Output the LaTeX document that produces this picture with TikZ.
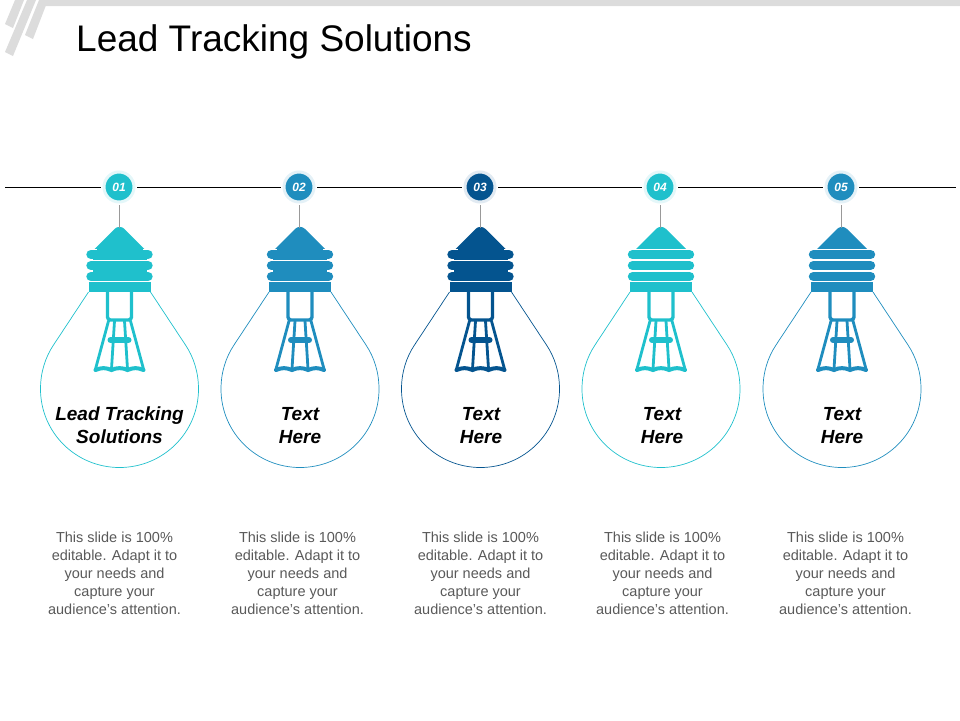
\documentclass[tikz,border=0pt]{standalone}
\usepackage{fontspec}
\setmainfont{Liberation Sans}
\usetikzlibrary{positioning,calc}

\definecolor{tealc}{HTML}{1FC0CC}
\definecolor{bluec}{HTML}{1F8DBE}
\definecolor{navyc}{HTML}{04548F}
\definecolor{stripec}{HTML}{DCDCDC}
\definecolor{bodyc}{HTML}{595959}

% cap with three ridges, merged = 1 keeps the ridges joined
\newcommand{\bulbcap}[2]{%
  \fill[#1,rounded corners=7] (0,224) -- (32,256) -- (-32,256) -- cycle;
  \fill[white] (-35,249) rectangle (35,258);
  \fill[#1] (-31,282) rectangle (31,292);
  \foreach \ry in {254.5,265.5,276.5} {\draw[#1,line width=9.4,line cap=round] (-28.5,\ry) -- (28.5,\ry);}
  \ifnum#2=1
    \fill[#1] (-23,248) rectangle (23,252);
    \fill[#1] (-27,250) rectangle (27,282);
    \draw[white,line width=0.9] (-35,260) -- (35,260);
    \draw[white,line width=0.9] (-35,281.5) -- (35,281.5);
  \fi
}

% filament inside the glass
\newcommand{\bulbwire}[1]{%
  \draw[#1,line width=3.4,rounded corners=3] (-12,292) -- (-12,320) -- (12,320) -- (12,292);
  \draw[#1,line width=2.8,line cap=round] (-11,321) -- (-24,369);
  \draw[#1,line width=2.8,line cap=round] (11,321) -- (24,369);
  \draw[#1,line width=2.8,line cap=round] (-5,321) -- (-8,369);
  \draw[#1,line width=2.8,line cap=round] (5,321) -- (8,369);
  \draw[#1,line width=6,line cap=round] (-9,340) -- (9,340);
  \draw[#1,line width=4,line cap=round] (-24,370) .. controls (-18,367.5) and (-14,367.5) .. (-8,370)
     .. controls (-3,367.5) and (3,367.5) .. (8,370) .. controls (14,367.5) and (18,367.5) .. (24,370);
}

\begin{document}
\begin{tikzpicture}[
x=1pt, y=-1pt,
glass/.style = {line width=0.7},
badge-node/.style = {circle,inner sep=0pt,minimum size=30,text=white,line width=3,font=\fontsize{12}{12}\selectfont\bfseries\itshape,outer sep=3},
label-node/.style = {align=center,text=black,font=\fontsize{19}{23}\selectfont\bfseries\itshape,inner sep=0pt},
body-node/.style = {align=center,text=bodyc,font=\fontsize{14.5}{18}\selectfont,inner sep=0pt}
]
\useasboundingbox (0,0) rectangle (960,720);

% corner stripes and top bar
\fill[stripec] (47,0) -- (960,0) -- (960,6) -- (44,6) -- cycle;
\fill[stripec] (15,0) -- (24,0) -- (13,28) -- (5,24) -- cycle;
\fill[stripec] (27,0) -- (36,0) -- (13,56) -- (5,52) -- cycle;
\fill[stripec] (39,0) -- (48,0) -- (33,39) -- (25,35) -- cycle;

\node [anchor=west,inner sep=0pt,font=\fontsize{37}{40}\selectfont] (title) at (76,42) {Lead Tracking Solutions};

% badges
\node [badge-node,fill=tealc,draw=tealc!12] (b1) at (119,187) {01};
\node [badge-node,fill=bluec,draw=bluec!12] (b2) at (299,187) {02};
\node [badge-node,fill=navyc,draw=navyc!12] (b3) at (480,187) {03};
\node [badge-node,fill=tealc,draw=tealc!12] (b4) at (660,187) {04};
\node [badge-node,fill=bluec,draw=bluec!12] (b5) at (841,187) {05};

% bulbs
\foreach \cx/\col/\merged/\i in {119.5/tealc/1/1,300/bluec/1/2,480.5/navyc/1/3,661/tealc/0/4,842/bluec/0/5} {
  \begin{scope}[shift={(\cx,0)}]
    \bulbwire{\col}
    \bulbcap{\col}{\merged}
    \draw[\col,glass] (-31,292) -- (-66,345) .. controls (-74,357) and (-79,372) .. (-79,389)
       .. controls (-79,432.6) and (-43.6,467.5) .. (0,467.5)
       .. controls (43.6,467.5) and (79,432.6) .. (79,389)
       .. controls (79,372) and (74,357) .. (66,345) -- (31,292);
    \coordinate (top\i) at (0,228);
  \end{scope}
}

% labels
\node [label-node] (l1) at (119.5,425.5) {Lead Tracking\\Solutions};
\node [label-node] (l2) at (300,425.5) {Text\\Here};
\node [label-node] (l3) at (481,425.5) {Text\\Here};
\node [label-node] (l4) at (662,425.5) {Text\\Here};
\node [label-node] (l5) at (842,425.5) {Text\\Here};

\foreach \cx/\i in {114.5/1,297.5/2,480.5/3,662.5/4,845.5/5} {
  \node [body-node] (t\i) at (\cx,573) {This slide is 100\%\\editable. Adapt it to\\your needs and\\capture your\\audience's attention.};
}

% lines
\coordinate (start) at (5,187);
\coordinate (end) at (956,187);
\draw[black,line width=0.8] (start) -- (b1);
\draw[black,line width=0.8] (b1) -- (b2);
\draw[black,line width=0.8] (b2) -- (b3);
\draw[black,line width=0.8] (b3) -- (b4);
\draw[black,line width=0.8] (b4) -- (b5);
\draw[black,line width=0.8] (b5) -- (end);
\foreach \i in {1,...,5} {
  \draw[gray!80,line width=0.8] (b\i) -- (b\i |- top\i);
}

\end{tikzpicture}
\end{document}
